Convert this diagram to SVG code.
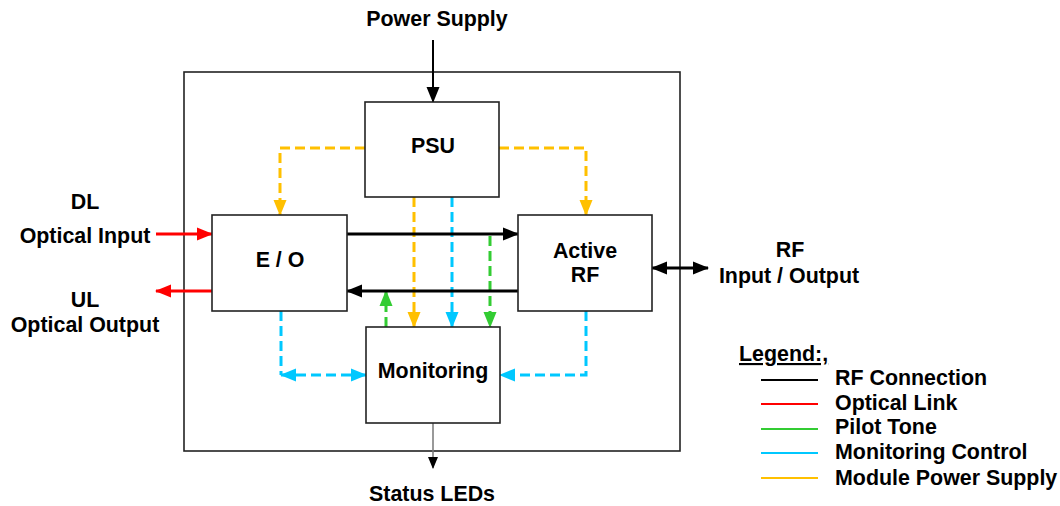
<svg xmlns="http://www.w3.org/2000/svg" width="1060" height="506" viewBox="0 0 1060 506">
<style>
text{font-family:"Liberation Sans",Arial,sans-serif;font-weight:bold;font-size:21.4px;fill:#000;text-anchor:middle}
.box{fill:#fff;stroke:#222;stroke-width:1.6}
.rf{stroke:#000;stroke-width:3;fill:none}
.opt{stroke:#f00;stroke-width:3;fill:none}
.pw{stroke:#FFC000;stroke-width:3;stroke-dasharray:10 5;fill:none}
.mc{stroke:#00C8FF;stroke-width:3;stroke-dasharray:10 5;fill:none}
.pt{stroke:#33CC33;stroke-width:3;stroke-dasharray:10 5;fill:none}
.lg{text-anchor:start}
</style>
<defs>
<marker id="aBlk" markerUnits="userSpaceOnUse" markerWidth="16" markerHeight="16" viewBox="0 0 16 16" refX="15" refY="8" orient="auto-start-reverse"><path d="M0,1.5 L16,8 L0,14.5 Z" fill="#000"/></marker>
<marker id="aRed" markerUnits="userSpaceOnUse" markerWidth="16" markerHeight="16" viewBox="0 0 16 16" refX="15" refY="8" orient="auto-start-reverse"><path d="M0,1.5 L16,8 L0,14.5 Z" fill="#f00"/></marker>
<marker id="aYel" markerUnits="userSpaceOnUse" markerWidth="16" markerHeight="16" viewBox="0 0 16 16" refX="15" refY="8" orient="auto-start-reverse"><path d="M0,1.5 L16,8 L0,14.5 Z" fill="#FFC000"/></marker>
<marker id="aBlu" markerUnits="userSpaceOnUse" markerWidth="16" markerHeight="16" viewBox="0 0 16 16" refX="15" refY="8" orient="auto-start-reverse"><path d="M0,1.5 L16,8 L0,14.5 Z" fill="#00C8FF"/></marker>
<marker id="aGrn" markerUnits="userSpaceOnUse" markerWidth="16" markerHeight="16" viewBox="0 0 16 16" refX="15" refY="8" orient="auto-start-reverse"><path d="M0,1.5 L16,8 L0,14.5 Z" fill="#33CC33"/></marker>
<marker id="aSm" markerUnits="userSpaceOnUse" markerWidth="12" markerHeight="12" viewBox="0 0 12 12" refX="11" refY="6" orient="auto"><path d="M0,1 L12,6 L0,11 Z" fill="#000"/></marker>
</defs>
<rect width="1060" height="506" fill="#fff"/>
<g id="enclosure"><rect x="184" y="72" width="496" height="379" fill="none" stroke="#222" stroke-width="1.6"/></g>

<g id="connectors">
<line x1="433" y1="40" x2="433" y2="102" stroke="#000" stroke-width="2" marker-end="url(#aBlk)"/>
<path class="pw" d="M365,148 H280 V215" marker-end="url(#aYel)"/>
<path class="pw" d="M499,148 H586 V215" marker-end="url(#aYel)"/>
<line class="pw" x1="414" y1="197" x2="414" y2="327" marker-end="url(#aYel)"/>
<line class="mc" x1="452" y1="197" x2="452" y2="327" marker-end="url(#aBlu)"/>
<line class="pt" x1="490" y1="236" x2="490" y2="327" marker-end="url(#aGrn)"/>
<line class="pt" x1="386" y1="327" x2="386" y2="291" marker-end="url(#aGrn)"/>
<line class="rf" x1="347" y1="234" x2="518" y2="234" marker-end="url(#aBlk)"/>
<line class="rf" x1="518" y1="291" x2="347" y2="291" marker-end="url(#aBlk)"/>
<line class="opt" x1="156" y1="234" x2="212" y2="234" marker-end="url(#aRed)"/>
<line class="opt" x1="212" y1="291" x2="156" y2="291" marker-end="url(#aRed)"/>
<line class="mc" x1="281" y1="311" x2="281" y2="375"/>
<line class="mc" x1="281" y1="375" x2="366" y2="375" marker-start="url(#aBlu)" marker-end="url(#aBlu)"/>
<path class="mc" d="M586,311 V375 H500" stroke-width="2.4" marker-end="url(#aBlu)"/>
<line class="rf" x1="652" y1="268" x2="708" y2="268" stroke-width="2.5" marker-start="url(#aBlk)" marker-end="url(#aBlk)"/>
<line x1="433" y1="423" x2="433" y2="468" stroke="#777" stroke-width="1.5" marker-end="url(#aSm)"/>
</g>

<g id="psu"><rect class="box" x="365" y="102" width="134" height="95"/><text x="433" y="153">PSU</text></g>
<g id="eo"><rect class="box" x="212" y="215" width="135" height="96"/><text x="280" y="267">E / O</text></g>
<g id="activerf"><rect class="box" x="518" y="215" width="134" height="96"/><text x="585" y="258">Active</text><text x="585" y="282">RF</text></g>
<g id="monitoring"><rect class="box" x="366" y="327" width="134" height="96"/><text x="433" y="378">Monitoring</text></g>

<g id="labels">
<text x="437" y="26">Power Supply</text>
<text x="85" y="209">DL</text>
<text x="85" y="243">Optical Input</text>
<text x="85" y="307">UL</text>
<text x="85" y="332">Optical Output</text>
<text x="790" y="257">RF</text>
<text x="789" y="283">Input / Output</text>
<text x="432" y="501">Status LEDs</text>
</g>

<g id="legend">
<text class="lg" x="739" y="361" text-decoration="underline">Legend:,</text>
<line x1="761" y1="380" x2="818" y2="380" stroke="#000" stroke-width="2"/>
<line x1="761" y1="404" x2="818" y2="404" stroke="#f00" stroke-width="2"/>
<line x1="761" y1="429" x2="818" y2="429" stroke="#33CC33" stroke-width="2"/>
<line x1="761" y1="453" x2="818" y2="453" stroke="#00C8FF" stroke-width="2"/>
<line x1="761" y1="478" x2="818" y2="478" stroke="#FFC000" stroke-width="2"/>
<text class="lg" x="835" y="385">RF Connection</text>
<text class="lg" x="835" y="410">Optical Link</text>
<text class="lg" x="835" y="434">Pilot Tone</text>
<text class="lg" x="835" y="459">Monitoring Control</text>
<text class="lg" x="835" y="485">Module Power Supply</text>
</g>
</svg>
